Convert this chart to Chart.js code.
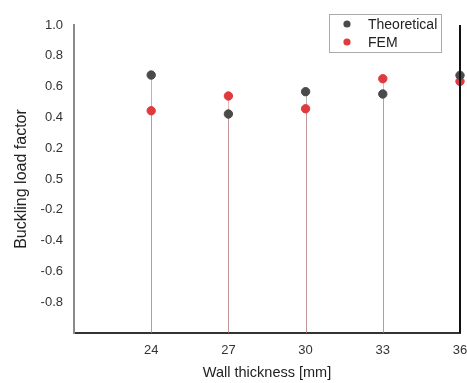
<!DOCTYPE html>
<html>
<head>
<meta charset="utf-8">
<style>
  html, body { margin: 0; padding: 0; background: #ffffff; }
  #wrap { width: 467px; height: 383px; }
</style>
<script src="https://cdn.jsdelivr.net/npm/chart.js@4/dist/chart.umd.min.js"></script>
</head>
<body>
<div id="wrap"><canvas id="c" width="467" height="383"></canvas></div>
<script>
// Wall thickness categories (mm)
const thickness = [24, 27, 30, 33, 36];
// Buckling load factor per method
const theoretical = [0.675, 0.422, 0.567, 0.552, 0.673];
const fem = [0.443, 0.539, 0.456, 0.651, 0.634];
// Y tick values and the labels printed next to them
const yTickValues = [1.0, 0.8, 0.6, 0.4, 0.2, 0.0, -0.2, -0.4, -0.6, -0.8];
const yTickLabels = ['1.0', '0.8', '0.6', '0.4', '0.2', '0.5', '-0.2', '-0.4', '-0.6', '-0.8'];

const FONT = '"Liberation Sans", Arial, sans-serif';

// Vertical stems from the x axis up to each marker
const stems = {
  id: 'stems',
  beforeDatasetsDraw(chart) {
    const { ctx, scales: { x, y } } = chart;
    const base = y.getPixelForValue(y.min);
    const styles = ['rgba(110,110,110,0.5)', 'rgba(205,125,125,0.55)'];
    chart.data.datasets.forEach((ds, i) => {
      ctx.save();
      ctx.strokeStyle = styles[i];
      ctx.lineWidth = 1;
      ds.data.forEach(p => {
        const px = Math.round(x.getPixelForValue(p.x)) + 0.5;
        ctx.beginPath();
        ctx.moveTo(px, base);
        ctx.lineTo(px, y.getPixelForValue(p.y));
        ctx.stroke();
      });
      ctx.restore();
    });
  }
};

// Right-hand frame line
const rightFrame = {
  id: 'rightFrame',
  afterDatasetsDraw(chart) {
    const { ctx, chartArea: a } = chart;
    ctx.save();
    ctx.strokeStyle = '#111111';
    ctx.lineWidth = 2;
    ctx.beginPath();
    ctx.moveTo(a.right, a.top);
    ctx.lineTo(a.right, a.bottom);
    ctx.stroke();
    ctx.restore();
  }
};

// Boxed legend in the upper right corner
const boxLegend = {
  id: 'boxLegend',
  afterDraw(chart) {
    const { ctx } = chart;
    const left = 329, top = 14, w = 112, h = 38;
    ctx.save();
    ctx.fillStyle = '#ffffff';
    ctx.fillRect(left, top, w, h);
    ctx.strokeStyle = '#aaaaaa';
    ctx.lineWidth = 1;
    ctx.strokeRect(left + 0.5, top + 0.5, w, h);
    ctx.font = '14px ' + FONT;
    ctx.textBaseline = 'middle';
    chart.data.datasets.forEach((ds, i) => {
      const cy = top + 10 + i * 18;
      ctx.fillStyle = ds.backgroundColor;
      ctx.beginPath();
      ctx.arc(left + 18, cy, 3.6, 0, Math.PI * 2);
      ctx.fill();
      ctx.fillStyle = '#222222';
      ctx.fillText(ds.label, left + 39, cy + 1);
    });
    ctx.restore();
  }
};

new Chart(document.getElementById('c'), {
  type: 'scatter',
  data: {
    datasets: [
      {
        label: 'Theoretical',
        data: thickness.map((t, i) => ({ x: t, y: theoretical[i] })),
        backgroundColor: '#4a4a4a',
        borderColor: '#4a4a4a',
        pointRadius: 4.2,
        pointHoverRadius: 4.2,
        clip: false
      },
      {
        label: 'FEM',
        data: thickness.map((t, i) => ({ x: t, y: fem[i] })),
        backgroundColor: '#e03a3f',
        borderColor: '#e03a3f',
        pointRadius: 4.2,
        pointHoverRadius: 4.2,
        clip: false
      }
    ]
  },
  options: {
    responsive: false,
    animation: false,
    devicePixelRatio: 1,
    layout: { padding: { top: 25, right: 7, left: 12, bottom: 0 } },
    plugins: {
      legend: { display: false },
      tooltip: { enabled: false }
    },
    scales: {
      x: {
        type: 'linear',
        min: 21,
        max: 36,
        afterBuildTicks(scale) { scale.ticks = thickness.map(v => ({ value: v })); },
        afterFit(scale) {
          scale.height = 50;
          scale.paddingLeft = 0;
          scale.paddingRight = 0;
        },
        grid: { display: false, drawTicks: false },
        border: { display: true, color: '#333333', width: 2 },
        ticks: {
          color: '#333333',
          font: { family: FONT, size: 13 },
          padding: 10,
          maxRotation: 0,
          callback: v => String(v)
        },
        title: {
          display: true,
          text: 'Wall thickness [mm]',
          color: '#222222',
          font: { family: FONT, size: 14.5 },
          padding: { top: 2, bottom: 1 }
        }
      },
      y: {
        min: -1,
        max: 1,
        afterBuildTicks(scale) { scale.ticks = yTickValues.map(v => ({ value: v })); },
        afterFit(scale) {
          scale.width = 62;
          scale.paddingTop = 0;
          scale.paddingBottom = 0;
        },
        grid: { display: false, drawTicks: false },
        border: { display: true, color: '#8a8a8a', width: 2 },
        ticks: {
          color: '#333333',
          font: { family: FONT, size: 13 },
          padding: 11,
          callback: v => {
            const i = yTickValues.findIndex(t => Math.abs(t - v) < 1e-9);
            return i >= 0 ? yTickLabels[i] : '';
          }
        },
        title: {
          display: true,
          text: 'Buckling load factor',
          color: '#222222',
          font: { family: FONT, size: 16 },
          padding: { top: 0, bottom: 4 }
        }
      }
    }
  },
  plugins: [stems, rightFrame, boxLegend]
});
</script>
</body>
</html>
